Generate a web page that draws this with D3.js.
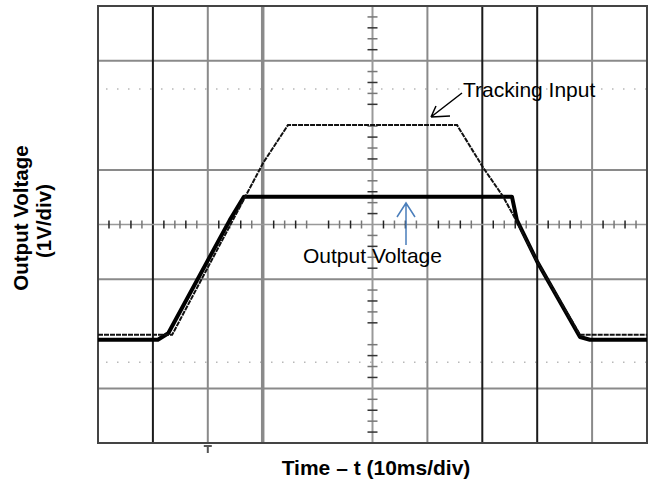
<!DOCTYPE html>
<html>
<head>
<meta charset="utf-8">
<script src="https://cdn.jsdelivr.net/npm/d3@7"></script>
<style>
  body { margin: 0; background: #fff; }
  text { font-family: "Liberation Sans", Arial, sans-serif; }
</style>
</head>
<body>
<div id="scope"></div>
<script>
// time in ms (10ms/div), voltage in V (1V/div), 0V at bottom of screen
var trackTime = [0, 13.5, 30.1, 34.6, 65.4, 70.1, 73.8, 76.3, 80.0, 87.8, 100];
var trackVolt = [1.98, 1.98, 5.13, 5.82, 5.82, 5.05, 4.51, 4.05, 3.32, 1.98, 1.98];

var outTime = [0, 10.9, 12.8, 24.0, 26.6, 75.4, 76.3, 80.0, 87.8, 89.6, 100];
var outVolt = [1.89, 1.89, 2.01, 4.08, 4.51, 4.51, 4.08, 3.32, 1.94, 1.89, 1.89];

// graticule lines that are shown on the screen shot
var vGridBlack = [10, 70, 80];
var vGridGrey = [20, 60, 90];
var vGridThick = [30];
var hGrid = [1, 3, 5, 7];
var cursorVolts = [1.48, 6.48];

var svgWidth = 653, svgHeight = 483;
var plot = { left: 98, right: 647, top: 6, bottom: 443 };

var svg = d3.select("#scope")
  .append("svg")
  .attr("width", svgWidth)
  .attr("height", svgHeight);

var x = d3.scaleLinear().domain([0, 100]).range([plot.left, plot.right]);
var y = d3.scaleLinear().domain([0, 8]).range([plot.bottom, plot.top]);

var grid = svg.append("g");

// horizontal graticule
grid.selectAll(".hg")
  .data(hGrid)
  .enter()
  .append("line")
  .attr("x1", x(0)).attr("x2", x(100))
  .attr("y1", d => y(d)).attr("y2", d => y(d))
  .attr("stroke", "#8a8a8a")
  .attr("stroke-width", 2);

// dotted cursor lines
grid.selectAll(".cur")
  .data(cursorVolts)
  .enter()
  .append("line")
  .attr("x1", x(0) + 8).attr("x2", x(100))
  .attr("y1", d => y(d)).attr("y2", d => y(d))
  .attr("stroke", "#b8b8b8")
  .attr("stroke-width", 1.5)
  .attr("stroke-dasharray", "1.5,9.5");

// vertical graticule
grid.selectAll(".vg")
  .data(vGridGrey)
  .enter()
  .append("line")
  .attr("x1", d => x(d)).attr("x2", d => x(d))
  .attr("y1", y(8)).attr("y2", y(0))
  .attr("stroke", "#8a8a8a")
  .attr("stroke-width", 2);

grid.selectAll(".vt")
  .data(vGridThick)
  .enter()
  .append("line")
  .attr("x1", d => x(d)).attr("x2", d => x(d))
  .attr("y1", y(8)).attr("y2", y(0))
  .attr("stroke", "#8a8a8a")
  .attr("stroke-width", 3.5);

grid.selectAll(".vb")
  .data(vGridBlack)
  .enter()
  .append("line")
  .attr("x1", d => x(d)).attr("x2", d => x(d))
  .attr("y1", y(8)).attr("y2", y(0))
  .attr("stroke", "#1a1a1a")
  .attr("stroke-width", 2);

// centre axes with minor ticks
grid.append("line")
  .attr("x1", x(0)).attr("x2", x(100))
  .attr("y1", y(4)).attr("y2", y(4))
  .attr("stroke", "#999").attr("stroke-width", 1.5);
grid.append("line")
  .attr("x1", x(50)).attr("x2", x(50))
  .attr("y1", y(8)).attr("y2", y(0))
  .attr("stroke", "#999").attr("stroke-width", 2);

grid.selectAll(".tx")
  .data(d3.range(2, 100, 2).filter(d => d % 10 != 0))
  .enter()
  .append("line")
  .attr("x1", d => x(d)).attr("x2", d => x(d))
  .attr("y1", y(4) - 4).attr("y2", y(4) + 4)
  .attr("stroke", (d, i) => i % 2 ? "#777" : "#222")
  .attr("stroke-width", 1.5);

grid.selectAll(".ty")
  .data(d3.range(0.2, 8, 0.2).filter(d => Math.abs(d - Math.round(d)) > 0.01))
  .enter()
  .append("line")
  .attr("x1", x(50) - 5).attr("x2", x(50) + 5)
  .attr("y1", d => y(d)).attr("y2", d => y(d))
  .attr("stroke", (d, i) => i % 2 ? "#777" : "#333")
  .attr("stroke-width", 1.5);

// border
svg.append("rect")
  .attr("x", x(0)).attr("y", y(8))
  .attr("width", x(100) - x(0))
  .attr("height", y(0) - y(8))
  .attr("fill", "none")
  .attr("stroke", "#444")
  .attr("stroke-width", 2);

// trigger marker
svg.append("path")
  .attr("d", `M${x(20) - 4},${y(0) + 3}H${x(20) + 4}M${x(20)},${y(0) + 3}V${y(0) + 10}`)
  .attr("stroke", "#555")
  .attr("stroke-width", 2);

// traces
var line = d3.line()
  .x(d => x(d[0]))
  .y(d => y(d[1]));

svg.append("path")
  .datum(d3.zip(outTime, outVolt))
  .attr("d", line)
  .attr("fill", "none")
  .attr("stroke", "#000")
  .attr("stroke-width", 4)
  .attr("stroke-linejoin", "round");

svg.append("path")
  .datum(d3.zip(trackTime, trackVolt))
  .attr("d", line)
  .attr("fill", "none")
  .attr("stroke", "#111")
  .attr("stroke-width", 2)
  .attr("stroke-dasharray", "5,1");

// annotations
svg.append("text")
  .attr("x", 463).attr("y", 97)
  .attr("font-size", "21px")
  .attr("fill", "#000")
  .text("Tracking Input");

svg.append("path")
  .attr("d", "M462,93L431,117M431,117L450,116M431,117L436,106")
  .attr("stroke", "#000")
  .attr("stroke-width", 1.5)
  .attr("fill", "none");

svg.append("path")
  .attr("d", "M406,245V203M397,217L406,203L415,217")
  .attr("stroke", "#4a7ebb")
  .attr("stroke-width", 1.5)
  .attr("fill", "none");

svg.append("text")
  .attr("x", 303).attr("y", 263)
  .attr("font-size", "21px")
  .attr("fill", "#000")
  .text("Output Voltage");

// axis labels
svg.append("text")
  .attr("x", 376).attr("y", 475)
  .attr("text-anchor", "middle")
  .attr("font-size", "21px")
  .attr("font-weight", "bold")
  .text("Time \u2013 t (10ms/div)");

svg.append("text")
  .attr("transform", "translate(28,218) rotate(-90)")
  .attr("text-anchor", "middle")
  .attr("font-size", "20.5px")
  .attr("font-weight", "bold")
  .text("Output Voltage");

svg.append("text")
  .attr("transform", "translate(51,221) rotate(-90)")
  .attr("text-anchor", "middle")
  .attr("font-size", "20.5px")
  .attr("font-weight", "bold")
  .text("(1V/div)");
</script>
</body>
</html>
